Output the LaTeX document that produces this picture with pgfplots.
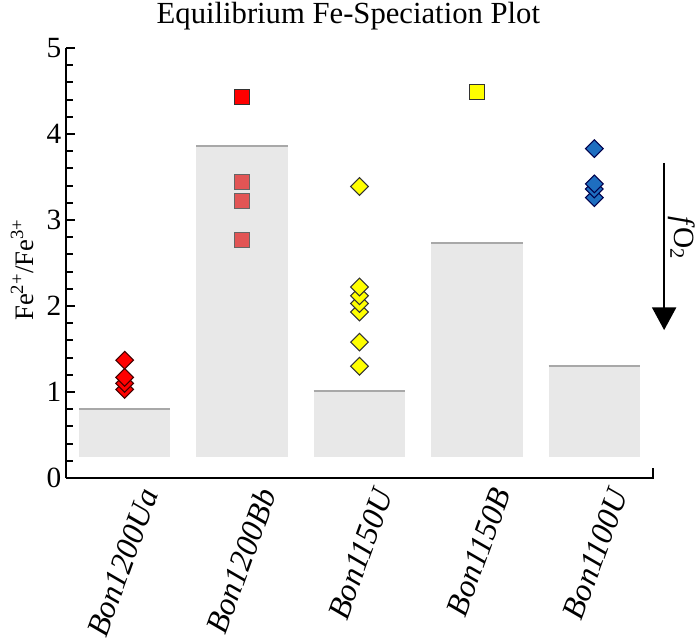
\documentclass[border=0pt]{standalone}
\usepackage{pgfplots}
\pgfplotsset{compat=1.18}
\usepackage{fontspec}
\setmainfont{Liberation Serif}
\usetikzlibrary{arrows.meta}
\definecolor{barfill}{HTML}{E8E8E8}
\definecolor{barline}{HTML}{A8A8A8}
\definecolor{myred}{HTML}{FF0000}
\definecolor{mysalmon}{HTML}{E25555}
\definecolor{myyellow}{HTML}{FFFF00}
\definecolor{myblue}{HTML}{1E6EC0}
\begin{document}
\begin{tikzpicture}
\begin{axis}[
  at={(0,0)}, anchor=south west,
  scale only axis, width=440.25pt, height=322.5pt,
  xmin=-0.5, xmax=4.5, ymin=0, ymax=5,
  axis x line*=bottom, axis y line*=left,
  axis line style={line width=1.6pt},
  clip=false,
  xtick={0,1,2,3,4},
  xticklabels={Bon1200Ua,Bon1200Bb,Bon1150U,Bon1150B,Bon1100U},
  x tick style={draw=none},
  x tick label style={font=\fontsize{24}{28}\selectfont\itshape, inner sep=1pt, xshift=10pt, yshift=-4.5pt, rotate=70, anchor=north east},
  ytick={0,1,2,3,4,5},
  minor y tick num=4,
  tick align=inside,
  major tick length=7pt, minor tick length=5pt,
  y tick style={line width=1.5pt, black},
  /pgf/number format/assume math mode=true,
  y tick label style={font=\fontsize{22}{26}\selectfont},
  ylabel={Fe\textsuperscript{2+}/Fe\textsuperscript{3+}},
  ylabel style={font=\fontsize{20}{24}\selectfont, at={(axis description cs:-0.075,0.484)}, anchor=center},
  title={Equilibrium Fe-Speciation Plot},
  title style={font=\fontsize{23}{27}\selectfont, inner sep=0pt, at={(axis description cs:0.481,1.038)}, anchor=base},
]
% bars (from 0.25 to top)
\addplot[fill=barfill, draw=none] coordinates {(-0.39,0.25) (0.39,0.25) (0.39,0.80) (-0.39,0.80)} -- cycle;
\addplot[fill=barfill, draw=none] coordinates {(0.61,0.25) (1.39,0.25) (1.39,3.86) (0.61,3.86)} -- cycle;
\addplot[fill=barfill, draw=none] coordinates {(1.61,0.25) (2.39,0.25) (2.39,1.01) (1.61,1.01)} -- cycle;
\addplot[fill=barfill, draw=none] coordinates {(2.61,0.25) (3.39,0.25) (3.39,2.73) (2.61,2.73)} -- cycle;
\addplot[fill=barfill, draw=none] coordinates {(3.61,0.25) (4.39,0.25) (4.39,1.30) (3.61,1.30)} -- cycle;
\addplot[barline, line width=1.5pt] coordinates {(-0.39,0.80) (0.39,0.80)};
\addplot[barline, line width=1.5pt] coordinates {(0.61,3.86) (1.39,3.86)};
\addplot[barline, line width=1.5pt] coordinates {(1.61,1.01) (2.39,1.01)};
\addplot[barline, line width=1.5pt] coordinates {(2.61,2.73) (3.39,2.73)};
\addplot[barline, line width=1.5pt] coordinates {(3.61,1.30) (4.39,1.30)};
% Bon1200Ua
\addplot[only marks, mark=square*, mark size=4.7pt, mark options={rotate=45, fill=myred, draw=black!75!red, line width=0.8pt}]
  coordinates {(0,1.03) (0,1.10) (0,1.17) (0,1.37)};
% Bon1200Bb
\addplot[only marks, mark=square*, mark size=5.5pt, mark options={fill=mysalmon, draw=black!60, line width=0.6pt}]
  coordinates {(1,2.77) (1,3.22) (1,3.44)};
\addplot[only marks, mark=square*, mark size=5.5pt, mark options={fill=myred, draw=black!80, line width=0.8pt}]
  coordinates {(1,4.43)};
% Bon1150U
\addplot[only marks, mark=square*, mark size=4.7pt, mark options={rotate=45, fill=myyellow, draw=black!80, line width=0.8pt}]
  coordinates {(2,1.30) (2,1.58) (2,1.93) (2,2.03) (2,2.12) (2,2.22) (2,3.39)};
% Bon1150B
\addplot[only marks, mark=square*, mark size=5.5pt, mark options={fill=myyellow, draw=black!80, line width=0.8pt}]
  coordinates {(3,4.49)};
% Bon1100U
\addplot[only marks, mark=square*, mark size=4.7pt, mark options={rotate=45, fill=myblue, draw=black!70!blue, line width=0.8pt}]
  coordinates {(4,3.26) (4,3.36) (4,3.42) (4,3.83)};
% right end tick of x axis
\draw[line width=1.6pt] ([yshift=-0.8pt]rel axis cs:1,0) -- ([yshift=7.5pt]rel axis cs:1,0);
% fO2 arrow
\draw[line width=1.5pt, -{Triangle[width=18pt,length=17pt]}] (rel axis cs:1.019,0.733) -- (rel axis cs:1.019,0.344);
\node[rotate=-90, inner sep=0pt, font=\fontsize{22}{26}\selectfont] at (rel axis cs:1.049,0.558) {\textit{f}O\textsubscript{2}};
\end{axis}
\path (-49.5pt,-123.75pt) rectangle (473.25pt,358.5pt);
\end{tikzpicture}
\end{document}
